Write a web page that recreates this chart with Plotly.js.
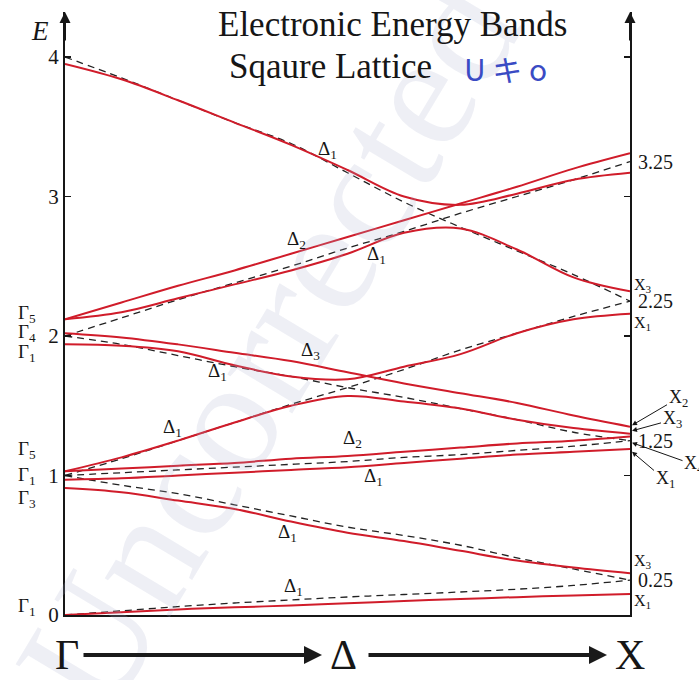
<!DOCTYPE html>
<html>
<head>
<meta charset="utf-8">
<script src="https://cdn.plot.ly/plotly-3.0.1.min.js"></script>
<style>
  html, body { margin: 0; padding: 0; background: #fff; }
  #chart { width: 699px; height: 680px; }
</style>
</head>
<body>
<div id="chart"></div>
<script>
// Wave vector along Γ → X, in units of 2π/a
const k = [0, 0.05, 0.10, 0.15, 0.20, 0.25, 0.30, 0.35, 0.40, 0.45, 0.50];

// Free-electron (empty lattice) parabolas, drawn dashed
const free0to025 = [0, 0.03, 0.06, 0.086, 0.108, 0.129, 0.147, 0.165, 0.185, 0.212, 0.25];
const free1to025 = [1.0, 0.93, 0.87, 0.79, 0.71, 0.63, 0.57, 0.50, 0.41, 0.33, 0.25];
const free1to125 = [1.0, 1.02, 1.04, 1.06, 1.08, 1.10, 1.13, 1.15, 1.18, 1.21, 1.25];
const free1to225 = [1.0, 1.12, 1.25, 1.38, 1.51, 1.63, 1.76, 1.90, 2.02, 2.14, 2.25];
const free2to125 = [2.0, 1.94, 1.86, 1.78, 1.71, 1.63, 1.56, 1.48, 1.40, 1.31, 1.25];
const free2to325 = [2.0, 2.13, 2.26, 2.38, 2.50, 2.63, 2.75, 2.88, 3.00, 3.12, 3.25];
const free4to225 = [4.0, 3.85, 3.69, 3.53, 3.38, 3.17, 2.96, 2.78, 2.61, 2.44, 2.25];

// Nearly-free-electron bands (with the periodic potential switched on)
const bandG1X1     = [0, 0.02, 0.04, 0.055, 0.068, 0.084, 0.10, 0.115, 0.128, 0.14, 0.15];
const bandG3X3     = [0.91, 0.88, 0.82, 0.76, 0.67, 0.59, 0.53, 0.46, 0.39, 0.34, 0.30];
const bandG1X1b    = [0.97, 0.98, 1.00, 1.02, 1.04, 1.06, 1.09, 1.12, 1.15, 1.17, 1.19];
const bandG5Delta2 = [1.03, 1.05, 1.07, 1.09, 1.12, 1.14, 1.17, 1.20, 1.23, 1.25, 1.28];
const bandG5X3     = [1.03, 1.13, 1.25, 1.38, 1.50, 1.57, 1.53, 1.48, 1.40, 1.34, 1.30];
const bandG4X2     = [2.02, 1.99, 1.94, 1.88, 1.82, 1.74, 1.66, 1.59, 1.52, 1.43, 1.35];
const bandG1X1c    = [1.94, 1.93, 1.89, 1.79, 1.71, 1.69, 1.78, 1.87, 2.02, 2.12, 2.16];
const bandG5Up     = [2.12, 2.24, 2.36, 2.47, 2.59, 2.71, 2.83, 2.95, 3.07, 3.20, 3.31];
const bandG5X3b    = [2.12, 2.17, 2.27, 2.37, 2.47, 2.59, 2.74, 2.77, 2.62, 2.42, 2.32];
const bandTop      = [3.95, 3.84, 3.69, 3.53, 3.37, 3.19, 3.00, 2.94, 3.02, 3.12, 3.17];

const freeBands = [free0to025, free1to025, free1to125, free1to225, free2to125, free2to325, free4to225];
const nfeBands = [bandG1X1, bandG3X3, bandG1X1b, bandG5Delta2, bandG5X3, bandG4X2,
                  bandG1X1c, bandG5Up, bandG5X3b, bandTop];

// Tick values on the energy axis
const eTicks = [0, 1, 2, 3, 4];
const eTickText = ['0', '1', '2', '3', '4'];

// Symmetry labels of the states
const gammaLabels = [
  {t: 'Γ<sub>5</sub>', e: 2.16}, {t: 'Γ<sub>4</sub>', e: 2.02}, {t: 'Γ<sub>1</sub>', e: 1.88},
  {t: 'Γ<sub>5</sub>', e: 1.18}, {t: 'Γ<sub>1</sub>', e: 1.00}, {t: 'Γ<sub>3</sub>', e: 0.83},
  {t: 'Γ<sub>1</sub>', e: 0.06}
];
const deltaLabels = [
  {t: 'Δ<sub>1</sub>', k: 0.232, e: 3.33}, {t: 'Δ<sub>2</sub>', k: 0.205, e: 2.69},
  {t: 'Δ<sub>1</sub>', k: 0.276, e: 2.58}, {t: 'Δ<sub>3</sub>', k: 0.217, e: 1.89},
  {t: 'Δ<sub>1</sub>', k: 0.135, e: 1.74}, {t: 'Δ<sub>1</sub>', k: 0.095, e: 1.34},
  {t: 'Δ<sub>2</sub>', k: 0.254, e: 1.26}, {t: 'Δ<sub>1</sub>', k: 0.273, e: 0.99},
  {t: 'Δ<sub>1</sub>', k: 0.197, e: 0.59}, {t: 'Δ<sub>1</sub>', k: 0.202, e: 0.20}
];
const xEnergies = ['3.25', '2.25', '1.25', '0.25'];
const xLabels = [
  {t: 'X<sub>3</sub>', e: 2.36}, {t: 'X<sub>1</sub>', e: 2.09},
  {t: 'X<sub>3</sub>', e: 0.38}, {t: 'X<sub>1</sub>', e: 0.10}
];
// Labels of the four X states near 1.25, pointed at with arrows
const xArrowLabels = [
  {t: 'X<sub>2</sub>', e: 1.36, ax: 46, ay: -27},
  {t: 'X<sub>3</sub>', e: 1.32, ax: 40, ay: -11},
  {t: 'X<sub>4</sub>', e: 1.235, ax: 62, ay: 22},
  {t: 'X<sub>1</sub>', e: 1.17, ax: 33, ay: 28}
];

const SERIF = "'Liberation Serif', 'Times New Roman', serif";
const INK = '#161616';
const RED = 'rgb(208,28,42)';

const traces = [];
freeBands.forEach(function (e) {
  traces.push({x: k, y: e, mode: 'lines', hoverinfo: 'skip', showlegend: false,
    line: {color: '#222', width: 1.3, dash: '7px,5px', shape: 'spline', smoothing: 1}});
});
nfeBands.forEach(function (e) {
  traces.push({x: k, y: e, mode: 'lines', hoverinfo: 'skip', showlegend: false,
    line: {color: RED, width: 2, shape: 'spline', smoothing: 1}});
});

// Plot box in pixels: left 65, right 630, top 12, bottom 615
const W = 699, H = 680, L = 65, R = 69, T = 12, B = 65;
const pw = W - L - R, ph = H - T - B;
const eMax = ph / 139.5;
const px = function (x) { return (x - L) / pw; };
const py = function (y) { return (H - B - y) / ph; };

const ann = [];
function note(o) {
  if (o.xanchor === undefined) o.xanchor = 'center';
  if (o.yanchor === undefined) o.yanchor = 'middle';
  ann.push(o);
}

// faint diagonal watermark
note({xref: 'paper', yref: 'paper', x: px(268), y: py(345), text: 'Uncorrected',
  showarrow: false, textangle: -59,
  font: {family: SERIF, size: 165, color: 'rgba(170,176,205,0.2)'}});

// titles
note({xref: 'paper', yref: 'paper', x: px(392), y: py(24), text: 'Electronic Energy Bands',
  showarrow: false, font: {family: SERIF, size: 35, color: INK}});
note({xref: 'paper', yref: 'paper', x: px(330), y: py(66), text: 'Sqaure Lattice',
  showarrow: false, font: {family: SERIF, size: 35, color: INK}});
note({xref: 'paper', yref: 'paper', x: px(505), y: py(68), text: 'U キ o',
  showarrow: false, font: {family: "'Noto Sans CJK JP', sans-serif", size: 30, color: '#3a4bc4'}});
note({xref: 'paper', yref: 'paper', x: px(40), y: py(31), text: '<i>E</i>',
  showarrow: false, font: {family: SERIF, size: 27, color: INK}});

// arrowheads on the two vertical axes
[0, 0.5].forEach(function (xv) {
  ann.push({xref: 'x', yref: 'y', x: xv, y: eMax, ax: 0, ay: 30, text: '',
    showarrow: true, arrowhead: 2, arrowsize: 1.1, arrowwidth: 2, arrowcolor: INK});
});

// symmetry labels
gammaLabels.forEach(function (g) {
  note({xref: 'paper', yref: 'y', x: px(27), y: g.e, text: g.t, showarrow: false,
    font: {family: SERIF, size: 19, color: INK}});
});
deltaLabels.forEach(function (d) {
  note({xref: 'x', yref: 'y', x: d.k, y: d.e, text: d.t, showarrow: false,
    font: {family: SERIF, size: 19, color: INK}});
});
xEnergies.forEach(function (s) {
  note({xref: 'x', yref: 'y', x: 0.5, y: parseFloat(s), text: s, showarrow: false,
    xanchor: 'left', xshift: 6, font: {family: SERIF, size: 20, color: INK}});
});
xLabels.forEach(function (l) {
  note({xref: 'x', yref: 'y', x: 0.5, y: l.e, text: l.t, showarrow: false,
    xanchor: 'left', xshift: 2, font: {family: SERIF, size: 16, color: INK}});
});
xArrowLabels.forEach(function (l) {
  note({xref: 'x', yref: 'y', x: 0.5, y: l.e, text: l.t, showarrow: true,
    ax: l.ax, ay: l.ay, arrowhead: 2, arrowsize: 1, arrowwidth: 1, arrowcolor: INK,
    xshift: 2, font: {family: SERIF, size: 18, color: INK}});
});

// path Γ → Δ → X under the axis
const pathY = py(655);
note({xref: 'paper', yref: 'paper', x: px(67), y: pathY, text: 'Γ', showarrow: false,
  font: {family: SERIF, size: 42, color: INK}});
note({xref: 'paper', yref: 'paper', x: px(343), y: pathY, text: 'Δ', showarrow: false,
  font: {family: SERIF, size: 42, color: INK}});
note({xref: 'paper', yref: 'paper', x: px(630), y: pathY, text: 'X', showarrow: false,
  font: {family: SERIF, size: 42, color: INK}});
[[82, 322], [367, 607]].forEach(function (seg) {
  ann.push({xref: 'paper', yref: 'paper', x: px(seg[1]), y: py(655), axref: 'pixel',
    ax: -(seg[1] - seg[0]), ayref: 'pixel', ay: 0, text: '', showarrow: true,
    arrowhead: 2, arrowsize: 0.9, arrowwidth: 4, arrowcolor: '#1a1a1a'});
});

const layout = {
  width: W, height: H,
  margin: {l: L, r: R, t: T, b: B, pad: 0},
  paper_bgcolor: '#fff', plot_bgcolor: '#fff',
  showlegend: false,
  xaxis: {range: [0, 0.5], showgrid: false, zeroline: false, showticklabels: false,
    ticks: '', showline: true, linewidth: 2, linecolor: INK, fixedrange: true},
  yaxis: {range: [0, eMax], showgrid: false, zeroline: false, showline: true,
    linewidth: 2, linecolor: INK, mirror: 'ticks', ticks: 'inside', ticklen: 6,
    tickwidth: 1.5, tickcolor: INK, tickvals: eTicks, ticktext: eTickText,
    tickfont: {family: SERIF, size: 21, color: INK}, fixedrange: true},
  annotations: ann
};

Plotly.newPlot('chart', traces, layout, {staticPlot: true, displayModeBar: false});
</script>
</body>
</html>
